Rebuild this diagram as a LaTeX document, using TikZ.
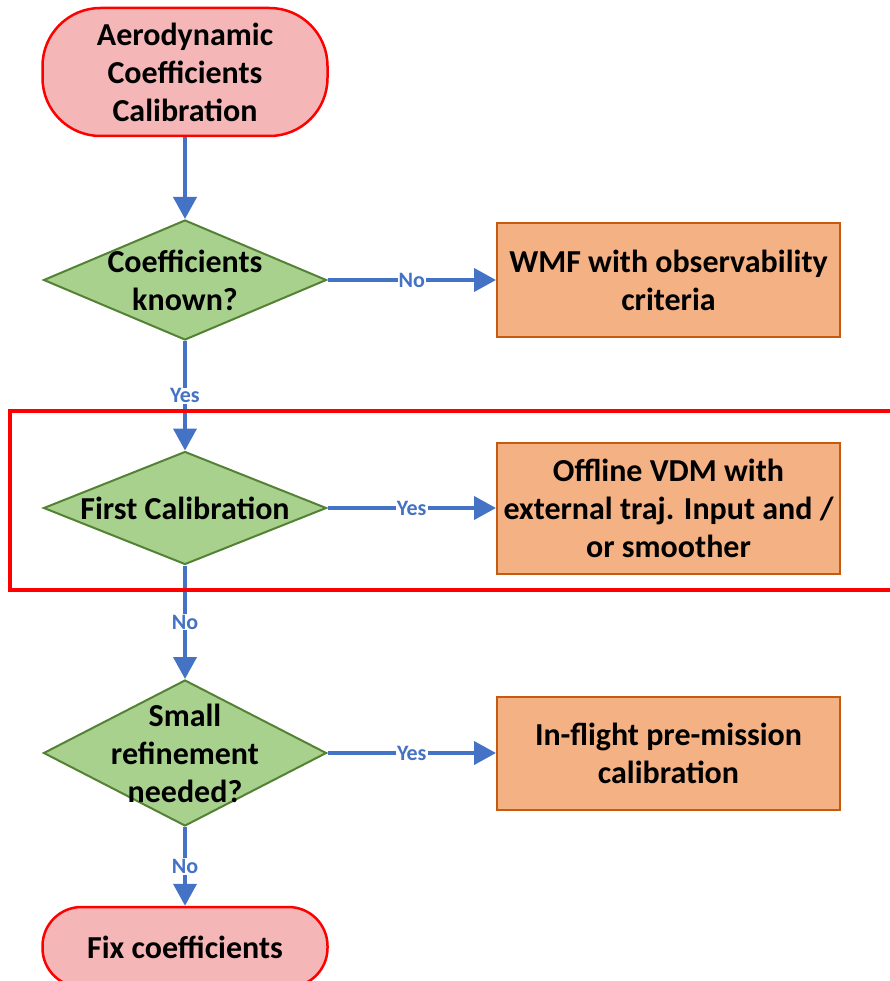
\documentclass[tikz,border=0pt]{standalone}
\usepackage{fontspec}
\setmainfont{Carlito}
\usetikzlibrary{arrows.meta,shapes.geometric}

\definecolor{flowblue}{HTML}{4472C4}
\definecolor{termfill}{HTML}{F4B6B6}
\definecolor{askfill}{HTML}{A9D18E}
\definecolor{askline}{HTML}{548235}
\definecolor{stepfill}{HTML}{F4B183}
\definecolor{stepline}{HTML}{C55A11}

\tikzset{
  bigtext/.style={font=\fontsize{32}{38}\selectfont\bfseries,align=center},
  term/.style={bigtext,rectangle,draw=red,fill=termfill,
    line width=2.5pt,minimum width=285pt},
  ask/.style={diamond,draw=askline,fill=askfill,line width=2pt,inner sep=0pt,
    minimum width=283pt},
  asktext/.style={bigtext,inner sep=0pt},
  stepbox/.style={bigtext,rectangle,draw=stepline,fill=stepfill,line width=2pt,
    minimum width=343pt}
}

\begin{document}
\begin{tikzpicture}[x=1pt,y=-1pt]
  \useasboundingbox (0,0) rectangle (890,981);

  % start and end
  \node[term,minimum height=128pt,rounded corners=58pt] (start) at (185,72)
    {Aerodynamic\\Coefficients\\Calibration};
  \node[term,minimum height=80pt,rounded corners=39pt] (fix) at (185,947)
    {Fix coefficients};

  % questions
  \node[ask,minimum height=120pt] (q1) at (185,280) {};
  \node[ask,minimum height=113pt] (q2) at (185,508) {};
  \node[ask,minimum height=146pt] (q3) at (185,753) {};
  \node[asktext] (q1t) at (q1) {Coefficients\\known?};
  \node[asktext] (q2t) at (q2) {First Calibration};
  \node[asktext] (q3t) at (q3) {Small\\refinement\\needed?};

  % actions
  \node[stepbox,minimum height=114pt] (wmf) at (668.5,280)
    {WMF with observability\\criteria};
  \node[stepbox,minimum height=131pt] (vdm) at (668.5,508)
    {Offline VDM with\\external traj. Input and /\\or smoother};
  \node[stepbox,minimum height=113pt] (flight) at (668.5,753)
    {In-flight pre-mission\\calibration};

  \path[draw=flowblue,line width=4pt,-{Triangle[width=23pt,length=22pt]}]
    (start) -- (q1);

  \begin{scope}[every node/.style={fill=white,text=flowblue,inner sep=1pt,
      font=\fontsize{22}{26}\selectfont\bfseries}]
    \begin{scope}[every edge/.style={draw=flowblue,line width=4pt,
        -{Triangle[width=23pt,length=22pt]}}]
      \path (q1) edge node {No}  (wmf);
      \path (q1) edge node {Yes} (q2);
      \path (q2) edge node {Yes} (vdm);
      \path (q2) edge node {No}  (q3);
      \path (q3) edge node {Yes} (flight);
      \path (q3) edge node {No}  (fix);
    \end{scope}
  \end{scope}

  % highlight
  \draw[red,line width=3.5pt] (10,411) rectangle (896,590);

\end{tikzpicture}
\end{document}
